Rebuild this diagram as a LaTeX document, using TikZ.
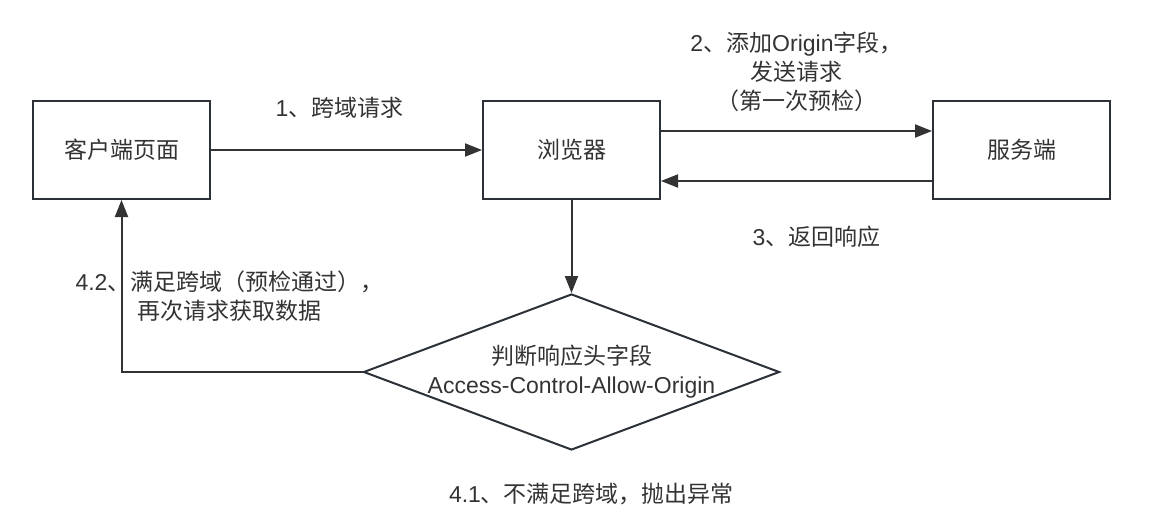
\documentclass[tikz,border=0pt]{standalone}
\usepackage{fontspec}
\setmainfont{Liberation Sans}
\newfontfamily\zh{Noto Sans CJK SC}
\usepackage{tikz}
\usetikzlibrary{arrows.meta,positioning,shapes.geometric}
\definecolor{linegray}{HTML}{333333}
\definecolor{boxgray}{HTML}{2B3136}

\begin{document}
\begin{tikzpicture}[->,>={Triangle[length=17pt,width=13pt]},x=1pt,y=1pt,
	                    line width=2pt,color=linegray,node distance=450pt,
	                    font=\fontsize{23}{29}\selectfont]
	  \tikzstyle{box}=[rectangle,draw=boxgray,minimum width=177pt,minimum height=98pt,inner sep=0pt]
	  \tikzstyle{judge}=[diamond,draw=boxgray,minimum width=416pt,minimum height=156pt,inner sep=0pt]

	  \useasboundingbox (0,0) rectangle (1162,-524);

	  \node[box]           (client) at (121.5,-150) {\zh 客户端页面};
	  \node[box]           (browser) [right of=client] {\zh 浏览器};
	  \node[box]           (server) [right of=browser] {\zh 服务端};
	  \node[judge]         (check) [node distance=222pt,below of=browser] {};
	  \node[align=center]  (checktext) at (check) {{\zh 判断响应头字段}\\Access-Control-Allow-Origin};
	  \node                (fail) [node distance=122pt,below of=check,xshift=20pt]
	                       {4.1{\zh 、不满足跨域，抛出异常}};

	  \path (client) edge node[xshift=-7pt,yshift=42pt] {1{\zh 、跨域请求}} (browser)
	        ([yshift=19pt]browser.east) edge node[yshift=59.5pt,align=center]
	             {2{\zh 、添加}Origin{\zh 字段，}\\{\zh 发送请求}\\{\zh （第一次预检）}}
	             ([yshift=19pt]server.west)
	        ([yshift=-31pt]server.west) edge node[xshift=20pt,yshift=-56pt] {3{\zh 、返回响应}}
	             ([yshift=-31pt]browser.east)
	        (browser) edge (check);

	  \draw (check.west) -| node[pos=0.75,xshift=108pt,yshift=-10pt,align=center]
	        {4.2{\zh 、满足跨域（预检通过），}\\{\zh 再次请求获取数据}} (client.south);
	\end{tikzpicture}
\end{document}
